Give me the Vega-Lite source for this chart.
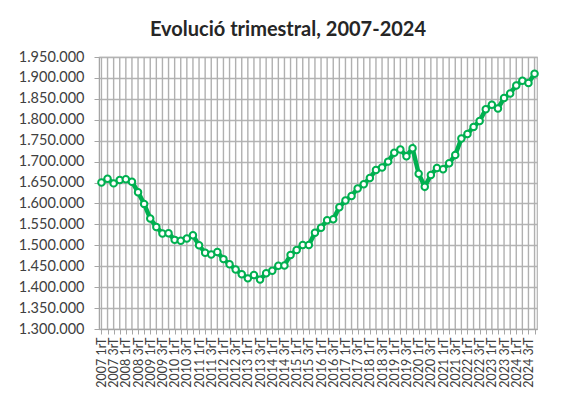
{
  "$schema": "https://vega.github.io/schema/vega-lite/v6.json",
  "width": 438,
  "height": 272,
  "autosize": {"type": "none"},
  "padding": {"left": 99, "top": 57, "right": 32, "bottom": 72},
  "background": "white",
  "title": {
    "text": "Evolució trimestral, 2007-2024",
    "font": "Lato",
    "fontSize": 20,
    "fontWeight": "bold",
    "color": "#262626",
    "anchor": "middle",
    "dx": -30,
    "offset": 9
  },
  "config": {
    "locale": {"number": {"decimal": ",", "thousands": ".", "grouping": [3], "currency": ["", " €"]}},
    "view": {"stroke": "#b4b4b4", "strokeWidth": 1.2},
    "axis": {"labelFont": "Lato", "labelColor": "#404040", "gridColor": "#b4b4b4", "gridWidth": 1.3, "domainColor": "#a6a6a6", "tickColor": "#a6a6a6", "title": null}
  },
  "data": {"values": [
    {"q": "2007 1rT", "v": 1650000}, {"q": "2007 2nT", "v": 1659000}, {"q": "2007 3rT", "v": 1648000}, {"q": "2007 4tT", "v": 1656000},
    {"q": "2008 1rT", "v": 1658000}, {"q": "2008 2nT", "v": 1652000}, {"q": "2008 3rT", "v": 1627000}, {"q": "2008 4tT", "v": 1599000},
    {"q": "2009 1rT", "v": 1564000}, {"q": "2009 2nT", "v": 1544000}, {"q": "2009 3rT", "v": 1528000}, {"q": "2009 4tT", "v": 1529000},
    {"q": "2010 1rT", "v": 1513000}, {"q": "2010 2nT", "v": 1511000}, {"q": "2010 3rT", "v": 1516000}, {"q": "2010 4tT", "v": 1524000},
    {"q": "2011 1rT", "v": 1500000}, {"q": "2011 2nT", "v": 1482000}, {"q": "2011 3rT", "v": 1478000}, {"q": "2011 4tT", "v": 1484000},
    {"q": "2012 1rT", "v": 1467000}, {"q": "2012 2nT", "v": 1455000}, {"q": "2012 3rT", "v": 1442000}, {"q": "2012 4tT", "v": 1431000},
    {"q": "2013 1rT", "v": 1421000}, {"q": "2013 2nT", "v": 1429000}, {"q": "2013 3rT", "v": 1418000}, {"q": "2013 4tT", "v": 1433000},
    {"q": "2014 1rT", "v": 1439000}, {"q": "2014 2nT", "v": 1451000}, {"q": "2014 3rT", "v": 1452000}, {"q": "2014 4tT", "v": 1477000},
    {"q": "2015 1rT", "v": 1489000}, {"q": "2015 2nT", "v": 1501000}, {"q": "2015 3rT", "v": 1501000}, {"q": "2015 4tT", "v": 1530000},
    {"q": "2016 1rT", "v": 1542000}, {"q": "2016 2nT", "v": 1560000}, {"q": "2016 3rT", "v": 1562000}, {"q": "2016 4tT", "v": 1591000},
    {"q": "2017 1rT", "v": 1607000}, {"q": "2017 2nT", "v": 1618000}, {"q": "2017 3rT", "v": 1636000}, {"q": "2017 4tT", "v": 1646000},
    {"q": "2018 1rT", "v": 1661000}, {"q": "2018 2nT", "v": 1680000}, {"q": "2018 3rT", "v": 1686000}, {"q": "2018 4tT", "v": 1700000},
    {"q": "2019 1rT", "v": 1721000}, {"q": "2019 2nT", "v": 1729000}, {"q": "2019 3rT", "v": 1713000}, {"q": "2019 4tT", "v": 1732000},
    {"q": "2020 1rT", "v": 1671000}, {"q": "2020 2nT", "v": 1640000}, {"q": "2020 3rT", "v": 1668000}, {"q": "2020 4tT", "v": 1685000},
    {"q": "2021 1rT", "v": 1682000}, {"q": "2021 2nT", "v": 1696000}, {"q": "2021 3rT", "v": 1716000}, {"q": "2021 4tT", "v": 1755000},
    {"q": "2022 1rT", "v": 1766000}, {"q": "2022 2nT", "v": 1783000}, {"q": "2022 3rT", "v": 1797000}, {"q": "2022 4tT", "v": 1825000},
    {"q": "2023 1rT", "v": 1836000}, {"q": "2023 2nT", "v": 1827000}, {"q": "2023 3rT", "v": 1852000}, {"q": "2023 4tT", "v": 1863000},
    {"q": "2024 1rT", "v": 1882000}, {"q": "2024 2nT", "v": 1893000}, {"q": "2024 3rT", "v": 1888000}, {"q": "2024 4tT", "v": 1910000}
  ]},
  "encoding": {
    "x": {
      "field": "q", "type": "ordinal", "sort": null,
      "scale": {"type": "point", "padding": 0.4},
      "axis": {
        "labelAngle": -90, "labelFontSize": 12.5, "labelPadding": 3, "tickSize": 5,
        "grid": false, "labelOverlap": false,
        "labelExpr": "indexof(datum.value, '1rT') >= 0 || indexof(datum.value, '3rT') >= 0 ? datum.value : ''"
      }
    }
  },
  "layer": [
    {"mark": {"type": "rule", "color": "#b0b0b0", "strokeWidth": 1.4}, "encoding": {}},
    {
      "mark": {"type": "line", "color": "#00b050", "strokeWidth": 4.5},
      "encoding": {
        "y": {
          "field": "v", "type": "quantitative",
          "scale": {"domain": [1300000, 1950000], "nice": false, "zero": false},
          "axis": {
            "tickCount": 13,
            "format": ",d", "labelFontSize": 14.5, "labelPadding": 10, "tickSize": 5, "grid": true, "labelOverlap": false
          }
        }
      }
    },
    {
      "mark": {"type": "point", "shape": "circle", "filled": true, "fill": "white", "stroke": "#00b050", "strokeWidth": 2, "size": 42, "opacity": 1},
      "encoding": {"y": {"field": "v", "type": "quantitative"}}
    }
  ]
}
